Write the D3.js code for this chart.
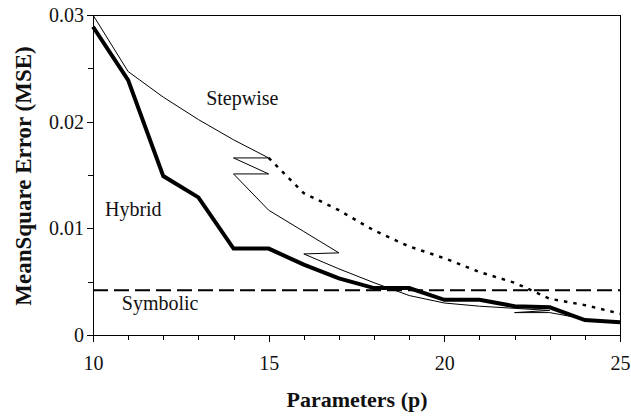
<!doctype html>
<html>
    <head>
        <style>
            body {margin:0; background:#fff}
            svg {width:631px; height:420px}
            text {font-family:"Liberation Serif", "Times New Roman", Times, serif}
            .axis path, .axis line {fill:none; stroke:#000; stroke-width:1; shape-rendering:crispEdges}
            .axis text {font-size:20px; fill:#111}
            .note {font-size:20px; fill:#111}
            .title {font-weight:bold; fill:#111}
        </style>
        <script src="https://d3js.org/d3.v7.min.js"></script>
    </head>
    <body>
        <script>
            // hybrid (thick line), one value per p
            var hybridP = [10,11,12,13,14,15,16,17,18,19,20,21,22,23,24,25];
            var hybridMSE = [0.0289,0.0239,0.0149,0.0129,0.0081,0.0081,0.0066,0.0053,0.0044,0.0044,0.0033,0.0033,0.0027,0.0026,0.0014,0.0012];

            // stepwise path (goes forward and back in p)
            var stepP = [10,11,12,13,14,15,14,15,14,15,16,17,16,17,18,19,20,21,22,23,22,23,24];
            var stepMSE = [0.0300,0.0247,0.0223,0.0202,0.0183,0.0166,0.0166,0.0151,0.0151,0.0117,0.0097,0.0077,0.0076,0.0062,0.0049,0.0037,0.0030,0.0027,0.0025,0.0023,0.0021,0.0021,0.0015];

            // stepwise continuation (dotted)
            var dotP = [15,16,17,18,19,20,21,22,23,24,25];
            var dotMSE = [0.0166,0.0133,0.0117,0.0098,0.0083,0.0072,0.0059,0.0049,0.0034,0.0028,0.0020];

            var symbolicMSE = 0.0042;

            var xTicks = [10,15,20,25];
            var yTicks = [0,0.01,0.02,0.03];

            //layout
            var padL=93, padR=620, padT=15, padB=335;
            var serif = "'Liberation Serif', 'Times New Roman', Times, serif";

            var svg = d3.select("body").append("svg");

            var x = d3.scaleLinear().domain([10,25]).range([padL,padR]);
            var y = d3.scaleLinear().domain([0,0.03]).range([padB,padT]);

            //frame top/right
            svg.append("line").attr("x1",padL).attr("x2",padR).attr("y1",padT).attr("y2",padT)
                .attr("stroke","#000").attr("shape-rendering","crispEdges");
            svg.append("line").attr("x1",padR).attr("x2",padR).attr("y1",padT).attr("y2",padB)
                .attr("stroke","#000").attr("shape-rendering","crispEdges");

            //minor ticks
            var xa = svg.append("g").attr("class","axis").attr("transform","translate(0,"+padB+")")
                .call(d3.axisBottom(x).tickValues(d3.range(10,26)).tickSize(5).tickFormat(""));
            xa.select(".domain").remove();
            svg.append("g").attr("class","axis").attr("transform","translate(0,"+padB+")")
                .call(d3.axisBottom(x).tickValues(xTicks).tickSize(7).tickPadding(14).tickSizeOuter(0)
                    .tickFormat(d3.format("d")))
                .attr("font-family",serif).attr("font-size",20);

            var ya = svg.append("g").attr("class","axis").attr("transform","translate("+padL+",0)")
                .call(d3.axisLeft(y).tickValues(d3.range(0,0.0301,0.005)).tickSize(5).tickFormat(""));
            ya.select(".domain").remove();
            svg.append("g").attr("class","axis").attr("transform","translate("+padL+",0)")
                .call(d3.axisLeft(y).tickValues(yTicks).tickSize(6).tickPadding(3).tickSizeOuter(0)
                    .tickFormat(function(d){return d==0 ? "0" : d3.format(".2f")(d)}))
                .attr("font-family",serif).attr("font-size",20);

            var line = d3.line().x(function(d){return x(d[0])}).y(function(d){return y(d[1])});

            //symbolic
            svg.append("path")
                .attr("d",line([[10,symbolicMSE],[25,symbolicMSE]]))
                .attr("fill","none").attr("stroke","#000").attr("stroke-width",2)
                .attr("stroke-dasharray","15,6");

            //dotted stepwise tail
            svg.append("path")
                .attr("d",line(d3.zip(dotP,dotMSE)))
                .attr("fill","none").attr("stroke","#000").attr("stroke-width",2.5)
                .attr("stroke-dasharray","3.5,6");

            //stepwise
            svg.append("path")
                .attr("d",line(d3.zip(stepP,stepMSE)))
                .attr("fill","none").attr("stroke","#000").attr("stroke-width",1)
                .attr("stroke-linejoin","miter");

            //hybrid
            svg.append("path")
                .attr("d",line(d3.zip(hybridP,hybridMSE)))
                .attr("fill","none").attr("stroke","#000").attr("stroke-width",4);

            //labels in plot
            svg.append("text").attr("class","note").attr("x",x(13.22)).attr("y",y(0.0216)).text("Stepwise");
            svg.append("text").attr("class","note").attr("x",x(10.34)).attr("y",y(0.0112)).text("Hybrid");
            svg.append("text").attr("class","note").attr("x",x(10.82)).attr("y",y(0.0023)).text("Symbolic");

            //axis titles
            svg.append("text").attr("class","title").attr("text-anchor","middle").attr("font-size",22)
                .attr("x",357).attr("y",407).text("Parameters  (p)");
            svg.append("text").attr("class","title").attr("text-anchor","middle").attr("font-size",23)
                .attr("transform","translate(31,176) rotate(-90)")
                .text("MeanSquare Error (MSE)");
        </script>
    </body>
</html>
